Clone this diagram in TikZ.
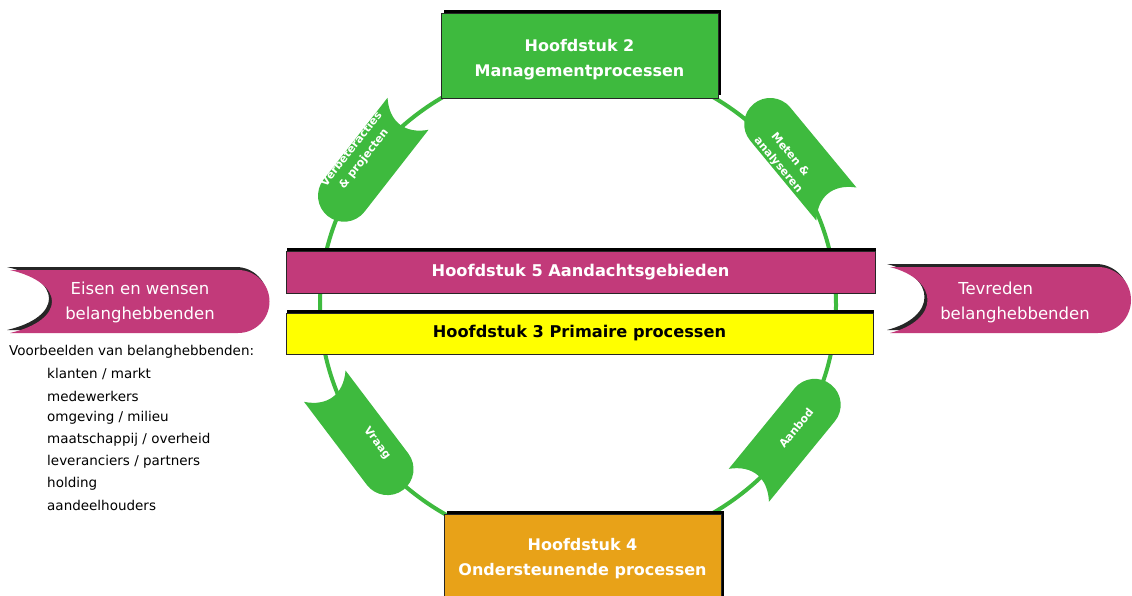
\documentclass[tikz,border=0pt]{standalone}
\usepackage{fontspec}
\setmainfont{DejaVu Sans}
\usetikzlibrary{shadows}
\definecolor{cgreen}{RGB}{62,186,62}
\definecolor{cmag}{RGB}{194,58,122}
\definecolor{corange}{RGB}{232,162,24}
\definecolor{cyel}{RGB}{255,255,0}
\newcommand\greentag[3]{%
  \begin{scope}[shift={(#1,#2)}, rotate=#3]
    \fill[cgreen] (-65,26) -- (39,26) arc(90:-90:26) -- (-65,-26)
      .. controls (-47,-10) and (-47,10) .. (-65,26) -- cycle;
  \end{scope}}
\begin{document}
\begin{tikzpicture}[x=1pt,y=-1pt,
  chapbox/.style={draw=black!85, line width=1pt, inner sep=0pt,
    drop shadow={shadow xshift=3pt, shadow yshift=3pt, fill=black, opacity=1}},
  chaptext/.style={align=center, text=white, inner sep=0pt,
    font=\bfseries\fontsize{16}{25}\selectfont},
  barbox/.style={draw=black!85, line width=1pt, inner sep=0pt,
    font=\bfseries\fontsize{16.2}{18}\selectfont,
    drop shadow={shadow xshift=1pt, shadow yshift=3pt, fill=black, opacity=1}},
  tagtext/.style={text=white, align=center, inner sep=0pt,
    font=\bfseries\fontsize{11}{15.5}\selectfont},
  bannertext/.style={text=white, inner sep=0pt,
    font=\fontsize{16.5}{25}\selectfont},
  listtext/.style={anchor=west, inner sep=0pt, font=\fontsize{13.5}{16}\selectfont}]
\useasboundingbox (0,0) rectangle (1132,595);

% cycle
\draw[cgreen, line width=4pt] (578,305) ellipse [x radius=258, y radius=244];

% tags
\greentag{368}{165}{232}
\greentag{795}{154}{129.6}
\greentag{364}{438}{-52.9}
\greentag{790}{435}{50.7}
\node[tagtext, rotate=52] (t1) at (358,154) {Verbeteracties\\\& projecten};
\node[tagtext, rotate=-50] (t2) at (784,160) {Meten \&\\analyseren};
\node[tagtext, rotate=-53] (t3) at (377,443) {Vraag};
\node[tagtext, rotate=51] (t4) at (796,428) {Aanbod};

% chapter boxes
\node[chapbox, fill=cgreen, minimum width=277pt, minimum height=85pt] (h2) at (579.5,55.5) {};
\node[chaptext] (h2t) at ([yshift=-4pt]h2.center) {Hoofdstuk 2\\Managementprocessen};
\node[chapbox, fill=corange, minimum width=277pt, minimum height=88pt] (h4) at (582.5,558) {};
\node[chaptext] (h4t) at ([yshift=-1pt]h4.center) {Hoofdstuk 4\\Ondersteunende processen};

% bars
\node[barbox, fill=cmag, text=white, minimum width=589pt, minimum height=42pt] (h5) at (580.5,272)
  {Hoofdstuk 5 Aandachtsgebieden};
\node[barbox, fill=cyel, text=black, minimum width=587pt, minimum height=41pt] (h3) at (579.5,333.5)
  {Hoofdstuk 3 Primaire processen};

% banners
\fill[black!85] (7,267) -- (236,267) arc(-90:90:31.5) -- (7,330)
  .. controls (63,317) and (63,280) .. (7,267) -- cycle;
\fill[cmag] (10,270) -- (238,270) arc(-90:90:31.5) -- (10,333)
  .. controls (66,320) and (66,283) .. (10,270) -- cycle;
\node[bannertext, align=center] (eisen) at (140,302) {Eisen en wensen\\belanghebbenden};

\fill[black!85] (887,264) -- (1096,264) arc(-90:90:33) -- (887,330)
  .. controls (937,317) and (937,277) .. (887,264) -- cycle;
\fill[cmag] (890,267) -- (1098,267) arc(-90:90:33) -- (890,333)
  .. controls (940,320) and (940,280) .. (890,267) -- cycle;
\node[bannertext, align=left] (tevr) at (1015,302) {\hspace*{18pt}Tevreden\\belanghebbenden};

% list
\node[listtext] (vb) at (9,352) {Voorbeelden van belanghebbenden:};
\node[listtext] (l1) at (47,374) {klanten / markt};
\node[listtext] (l2) at (47,396) {medewerkers};
\node[listtext] (l3) at (47,418) {omgeving / milieu};
\node[listtext] (l4) at (47,440) {maatschappij / overheid};
\node[listtext] (l5) at (47,462) {leveranciers / partners};
\node[listtext] (l6) at (47,484) {holding};
\node[listtext] (l7) at (47,505) {aandeelhouders};
\end{tikzpicture}
\end{document}
